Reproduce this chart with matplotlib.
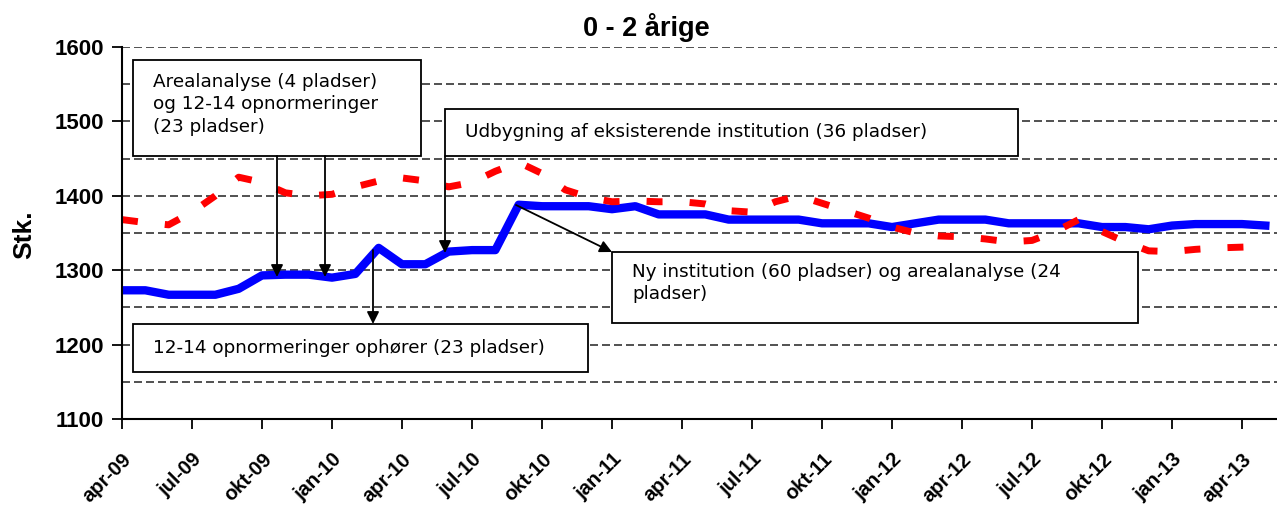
import matplotlib.pyplot as plt
from matplotlib.patches import Rectangle
from matplotlib.ticker import MultipleLocator
from matplotlib.transforms import ScaledTranslation

tick_labels = ["apr-09", "jul-09", "okt-09", "jan-10", "apr-10", "jul-10", "okt-10",
               "jan-11", "apr-11", "jul-11", "okt-11", "jan-12", "apr-12", "jul-12",
               "okt-12", "jan-13", "apr-13"]

# monthly values from apr-09
blue = [1273, 1273, 1267, 1267, 1267, 1275, 1293, 1294, 1294, 1290,
        1295, 1330, 1308, 1308, 1325, 1327, 1327, 1388, 1386, 1386,
        1386, 1382, 1386, 1375, 1375, 1375, 1368, 1368, 1368, 1368,
        1363, 1363, 1363, 1358, 1363, 1368, 1368, 1368, 1363, 1363,
        1363, 1363, 1358, 1358, 1355, 1360, 1362, 1362, 1362, 1360]
red = [1368, 1364, 1361, 1378, 1400, 1425, 1418, 1404, 1400, 1402,
       1412, 1420, 1424, 1420, 1412, 1418, 1433, 1445, 1430, 1408,
       1398, 1392, 1393, 1392, 1392, 1389, 1380, 1378, 1392, 1400,
       1390, 1380, 1370, 1358, 1350, 1346, 1345, 1342, 1338, 1340,
       1352, 1368, 1352, 1338, 1326, 1325, 1328, 1330, 1331, 1332]
months = list(range(len(blue)))

W, H = 1277, 511
L, R, T, B = 122, 1277, 47, 419

fig = plt.figure(figsize=(W / 100, H / 100), dpi=100)
ax = fig.add_axes([L / W, 1 - B / H, (R - L) / W, (B - T) / H])


def at(x, y):
    # reference pixel -> axes fraction
    return ((x - L) / (R - L), (B - y) / (B - T))


ax.plot(months, blue, color="#0000FF", lw=6, zorder=3)
ax.plot(months, red, color="#FF0000", lw=5, dashes=(2.3, 3.9), zorder=4)

ax.set_xlim(0, 49.5)
ax.set_ylim(1100, 1600)
ax.set_xticks(range(0, 49, 3))
ax.set_xticklabels(tick_labels, rotation=45, ha="right", rotation_mode="anchor",
                   fontsize=14.5, fontweight="bold", family="Liberation Sans")
shift = ScaledTranslation(-8 / 100, 0, fig.dpi_scale_trans)
for lab in ax.get_xticklabels():
    lab.set_transform(lab.get_transform() + shift)
ax.yaxis.set_major_locator(MultipleLocator(100))
ax.yaxis.set_minor_locator(MultipleLocator(50))
for lab in ax.get_yticklabels():
    lab.set_fontsize(16)
    lab.set_fontweight("bold")
    lab.set_family("Liberation Sans")
ax.tick_params(axis="y", which="major", length=7, width=1.3, pad=6)
ax.tick_params(axis="y", which="minor", length=0)
ax.tick_params(axis="x", length=7, width=1.3, pad=15)
ax.grid(axis="y", which="both", color="#333333", lw=1.2, ls=(0, (4.8, 2.4)), zorder=1)
for s in ["top", "right"]:
    ax.spines[s].set_visible(False)
for s in ["left", "bottom"]:
    ax.spines[s].set_linewidth(1.5)
    ax.spines[s].set_zorder(5)

fig.text(646 / W, 1 - 28 / H, "0 - 2 årige", ha="center", va="center",
         fontsize=19.5, fontweight="bold", family="Liberation Sans")
fig.text(24 / W, 1 - 235 / H, "Stk.", rotation=90, ha="center", va="center",
         fontsize=19, fontweight="bold", family="Liberation Sans")

# annotation boxes (reference pixels)
boxes = [
    (133, 60, 421, 156, "Arealanalyse (4 pladser)\nog 12-14 opnormeringer\n(23 pladser)", 153, 73, "top"),
    (445, 109, 1018, 156, "Udbygning af eksisterende institution (36 pladser)", 465, 132, "center"),
    (612, 252, 1138, 323, "Ny institution (60 pladser) og arealanalyse (24\npladser)", 632, 263, "top"),
    (133, 324, 588, 372, "12-14 opnormeringer ophører (23 pladser)", 153, 348, "center"),
]
for x0, y0, x1, y1, txt, tx, ty, va in boxes:
    ax.add_patch(Rectangle(at(x0, y1), (x1 - x0) / (R - L), (y1 - y0) / (B - T),
                           transform=ax.transAxes, facecolor="white", edgecolor="black",
                           lw=1.3, zorder=6, clip_on=False))
    ax.text(*at(tx, ty), txt, transform=ax.transAxes, ha="left", va=va,
            fontsize=13.2, family="DejaVu Sans", linespacing=1.32, zorder=7)

arrows = [
    ((277, 156), (277, 277)),
    ((325, 156), (325, 277)),
    ((445, 156), (445, 253)),
    ((373, 250), (373, 324)),
    ((516, 205), (612, 252)),
]
for (sx, sy), (ex, ey) in arrows:
    ax.annotate("", xy=at(ex, ey), xycoords="axes fraction",
                xytext=at(sx, sy), textcoords="axes fraction",
                arrowprops=dict(arrowstyle="-|>", color="black", lw=1.3,
                                mutation_scale=18, shrinkA=0, shrinkB=0),
                zorder=8)

fig.savefig("out.png", dpi=100)
